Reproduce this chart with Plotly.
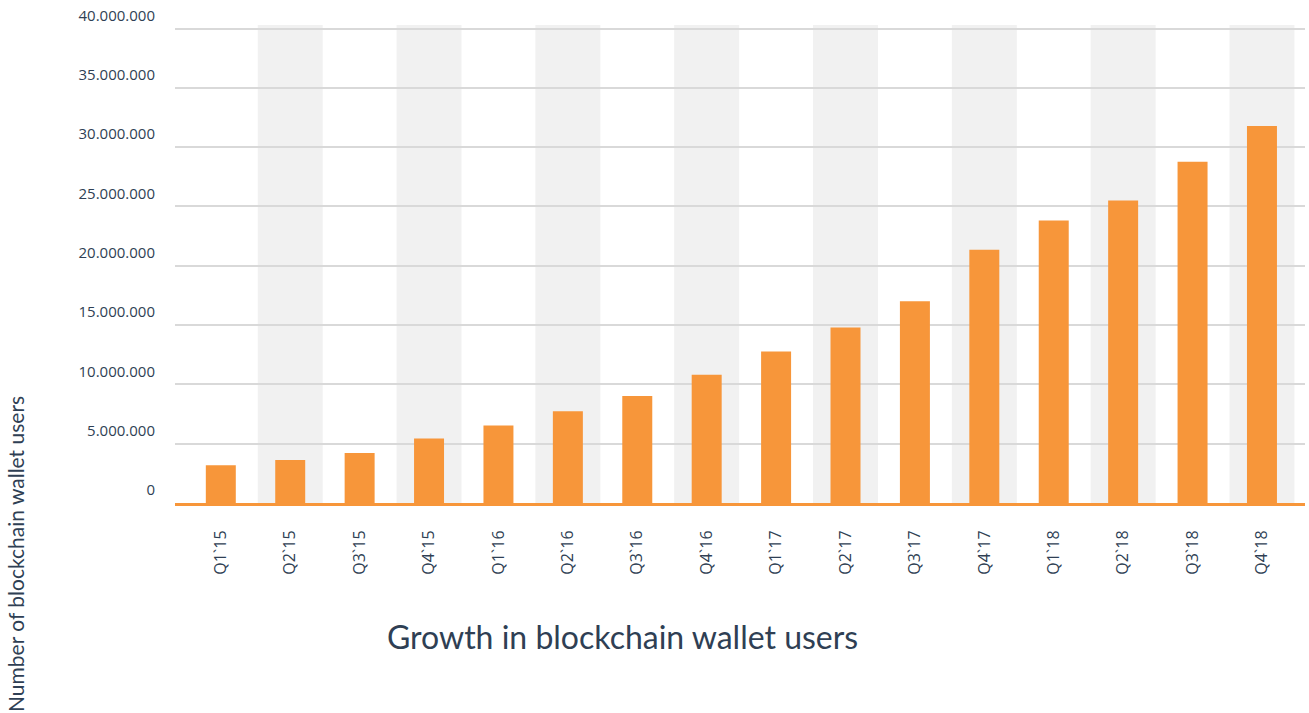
import plotly.graph_objects as go

quarters = ["Q1`15", "Q2`15", "Q3`15", "Q4`15", "Q1`16", "Q2`16", "Q3`16", "Q4`16",
            "Q1`17", "Q2`17", "Q3`17", "Q4`17", "Q1`18", "Q2`18", "Q3`18", "Q4`18"]
users = [3190000, 3620000, 4220000, 5430000, 6530000, 7730000, 9030000, 10820000,
         12770000, 14800000, 17000000, 21360000, 23810000, 25510000, 28770000, 31780000]
y_ticks = [0, 5000000, 10000000, 15000000, 20000000, 25000000, 30000000, 35000000, 40000000]

title_text = "Growth in blockchain wallet users"
y_title_text = "Number of blockchain wallet users"

W, H = 1309, 713
L, R, T, B = 175, 4, 25, 210
pw, ph = W - L - R, H - T - B

text_color = "#2f3f54"
bar_color = "#F7963A"

fig = go.Figure()
fig.add_trace(go.Bar(x=list(range(len(quarters))), y=users, marker=dict(color=bar_color, line=dict(width=0)),
                     hoverinfo="x+y"))

shapes = []
for i in range(len(quarters)):
    if i % 2 == 1:
        shapes.append(dict(type="rect", xref="x", yref="paper", x0=i - 0.468, x1=i + 0.468,
                           y0=0, y1=1, fillcolor="#f1f1f1", line=dict(width=0), layer="below"))


def px_to_paper_x(px):
    return (px - L) / pw


def px_to_paper_y(py):
    return (H - B - py) / ph


fig.update_layout(
    width=W, height=H,
    margin=dict(l=L, r=R, t=T, b=B, pad=0),
    plot_bgcolor="white", paper_bgcolor="white",
    separators=",.",
    bargap=0.568,
    showlegend=False,
    shapes=shapes,
    font=dict(family="Open Sans", color=text_color),
    xaxis=dict(
        range=[-0.66, 15.62],
        tickmode="array", tickvals=list(range(len(quarters))), ticktext=quarters,
        tickangle=-90, tickfont=dict(family="Open Sans", size=16, color=text_color),
        showgrid=False, zeroline=False,
        showline=True, linecolor=bar_color, linewidth=3,
        ticks="", ticklabelstandoff=18,
    ),
    yaxis=dict(
        range=[0, 40300000],
        tickmode="array", tickvals=y_ticks, tickformat=",d",
        tickfont=dict(family="Open Sans", size=15, color=text_color),
        showgrid=True, gridcolor="#d9d9d9", gridwidth=1.5,
        zeroline=False, showline=False, ticks="",
        ticklabelstandoff=19, ticklabelshift=-13,
    ),
    annotations=[
        dict(text=title_text, xref="paper", yref="paper",
             x=px_to_paper_x(622), y=px_to_paper_y(636), xanchor="center", yanchor="middle",
             showarrow=False, font=dict(family="Lato", size=32, color=text_color)),
        dict(text=y_title_text, xref="paper", yref="paper", textangle=-90,
             x=px_to_paper_x(15), y=px_to_paper_y(554), xanchor="center", yanchor="middle",
             showarrow=False, font=dict(family="Lato", size=21, color=text_color)),
    ],
)

fig.write_html("out.html", config={"displayModeBar": False},
               post_script="document.body.style.margin='0';")
